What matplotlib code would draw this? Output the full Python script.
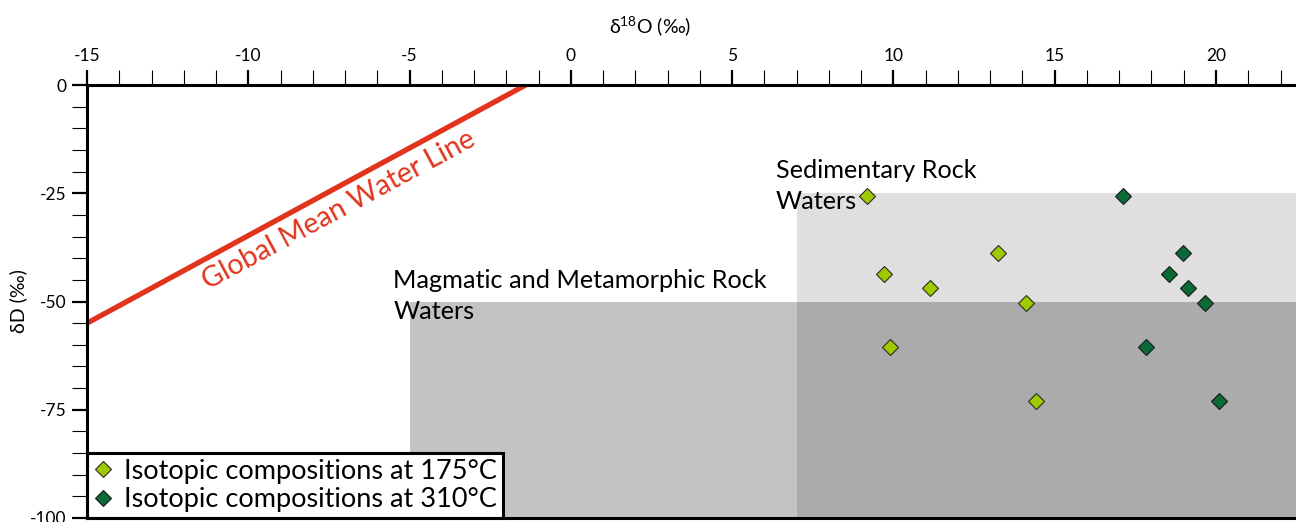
import matplotlib
matplotlib.use("Agg")
import matplotlib.pyplot as plt
from matplotlib.patches import Rectangle
from matplotlib.ticker import MultipleLocator

plt.rcParams['font.family'] = ['Lato', 'DejaVu Sans']
plt.rcParams['mathtext.fontset'] = 'custom'
plt.rcParams['mathtext.rm'] = 'Lato'
plt.rcParams['mathtext.it'] = 'Lato:italic'
plt.rcParams['axes.unicode_minus'] = False

# ---- data ----
d18O_175 = [9.17, 9.70, 11.14, 13.25, 14.12, 9.90, 14.43]
dD_175 = [-25.6, -43.6, -46.8, -38.9, -50.4, -60.5, -73.0]
d18O_310 = [17.13, 18.53, 19.13, 18.97, 19.67, 17.83, 20.09]
dD_310 = [-25.6, -43.6, -46.8, -38.9, -50.4, -60.5, -73.0]

gmwl_x = [-15, -1.4]
gmwl_y = [-55, 0]

sed_box = (7, -100, 16, 75)      # x0, y0, width, height
mag_box = (-5, -100, 28, 50)

label_175 = "Isotopic compositions at 175°C"
label_310 = "Isotopic compositions at 310°C"

fig = plt.figure(figsize=(12.96, 5.22), dpi=100)
ax = fig.add_axes([87/1296, 4/522, 1209/1296, 433/522])
ax.set_xlim(-15, 22.48)
ax.set_ylim(-100, 0)

# regions
ax.add_patch(Rectangle(sed_box[:2], sed_box[2], sed_box[3], facecolor='#dfdfdf', edgecolor='none', zorder=1))
ax.add_patch(Rectangle(mag_box[:2], mag_box[2], mag_box[3], facecolor='#c3c3c3', edgecolor='none', zorder=1))
ax.add_patch(Rectangle((max(sed_box[0], mag_box[0]), -100), 16, 50, facecolor='#ababab', edgecolor='none', zorder=1.5))

ax.plot(gmwl_x, gmwl_y, color='#e2341d', lw=3.8, solid_capstyle='butt', zorder=3, clip_on=True)
ax.text(-7.2, -28.9, "Global Mean Water Line", color='#e2341d', fontsize=20.5,
        rotation=28.4, ha='center', va='center', rotation_mode='anchor', zorder=3)

ax.text(6.35, -28.6, "Sedimentary Rock\nWaters", fontsize=18.2, ha='left', va='baseline',
        linespacing=1.4, zorder=4)
ax.text(-5.5, -54.0, "Magmatic and Metamorphic Rock\nWaters", fontsize=18.2, ha='left', va='baseline',
        linespacing=1.4, zorder=4)

ax.plot(d18O_175, dD_175, linestyle='none', marker='D', ms=8.6, mfc='#9dcb00', mec='#2a2a2a', mew=0.8,
        zorder=5, label=label_175)
ax.plot(d18O_310, dD_310, linestyle='none', marker='D', ms=8.6, mfc='#0b6a36', mec='#1a1a1a', mew=0.8,
        zorder=5, label=label_310)

leg = ax.legend(loc='lower left', bbox_to_anchor=(0, 0), fontsize=19.5, frameon=True, fancybox=False,
                framealpha=1, edgecolor='black', handlelength=0.75, handletextpad=0.4,
                borderpad=0.22, labelspacing=0.12, borderaxespad=0.0, markerscale=1.0)
leg.get_frame().set_linewidth(2.2)
leg.set_zorder(6)

# axes styling
ax.xaxis.set_ticks_position('top')
ax.xaxis.set_label_position('top')
ax.xaxis.set_major_locator(MultipleLocator(5))
ax.xaxis.set_minor_locator(MultipleLocator(1))
ax.yaxis.set_major_locator(MultipleLocator(25))
ax.yaxis.set_minor_locator(MultipleLocator(5))
ax.tick_params(which='both', direction='out', length=11, color='black')
ax.tick_params(which='major', width=1.6, labelsize=12.5, pad=4)
ax.tick_params(which='minor', width=0.8)
for s in ['top', 'left', 'bottom']:
    ax.spines[s].set_linewidth(2.2)
    ax.spines[s].set_zorder(7)
ax.spines['right'].set_visible(False)

ax.set_xlabel(r"δ$^{\mathrm{18}}$O (‰)", fontsize=14, labelpad=8)
ax.xaxis.set_label_coords((650 - 87) / 1209, 1.0 + 52 / 433)
ax.set_ylabel("δD (‰)", fontsize=14, labelpad=2)

fig.savefig("out.png", dpi=100)
